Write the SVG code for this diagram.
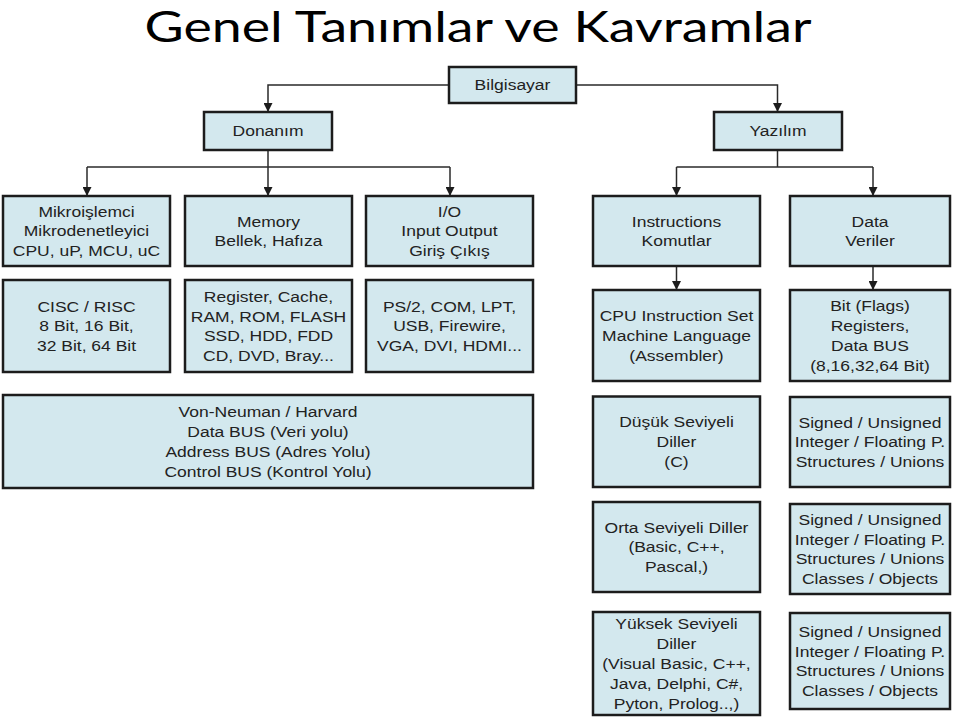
<svg xmlns="http://www.w3.org/2000/svg" width="959" height="719" viewBox="0 0 959 719">
<defs>
<style>
.box{fill:#d3e8ee;stroke:#1c1c1c;stroke-width:2.5}
.lbl{font-family:"Liberation Sans",Arial,sans-serif;font-size:15.5px;fill:#222;text-anchor:middle}
.conn{stroke:#2a2a2a;stroke-width:1.5;fill:none}
.arr{marker-end:url(#ah)}
.title{font-family:Lato,"Open Sans",sans-serif;font-size:42px;fill:#000;text-anchor:middle}
</style>
<marker id="ah" viewBox="0 0 10 10" refX="10" refY="5" markerWidth="9" markerHeight="9" markerUnits="userSpaceOnUse" orient="auto">
<path d="M0,0 L10,5 L0,10 z" fill="#1c1c1c"/>
</marker>
</defs>
<rect width="959" height="719" fill="#fff"/>
<text class="title" x="478" y="42" textLength="667" lengthAdjust="spacingAndGlyphs">Genel Tanımlar ve Kavramlar</text>

<g id="connectors">
<path class="conn arr" d="M449,85 H268 V112"/>
<path class="conn arr" d="M576,85 H777.5 V112"/>
<path class="conn arr" d="M268,150 V196"/>
<path class="conn" d="M87,167 H450"/>
<path class="conn arr" d="M87,167 V196"/>
<path class="conn arr" d="M450,167 V196"/>
<path class="conn" d="M777.5,150 V167"/>
<path class="conn" d="M676.5,167 H873"/>
<path class="conn arr" d="M676.5,167 V196"/>
<path class="conn arr" d="M873,167 V196"/>
<path class="conn arr" d="M676.5,266 V290"/>
<path class="conn arr" d="M873,266 V290"/>
</g>

<g id="bilgisayar"><rect class="box" x="449" y="67" width="127" height="36"/>
<text class="lbl" transform="matrix(1.13 0 0 1 512.5 0)"><tspan x="0" y="90.5">Bilgisayar</tspan></text></g>

<g id="donanim"><rect class="box" x="204" y="112" width="128" height="38"/>
<text class="lbl" transform="matrix(1.13 0 0 1 268 0)"><tspan x="0" y="136.5">Donanım</tspan></text></g>

<g id="yazilim"><rect class="box" x="714" y="112" width="128" height="38"/>
<text class="lbl" transform="matrix(1.13 0 0 1 778 0)"><tspan x="0" y="136.5">Yazılım</tspan></text></g>

<g id="mikro"><rect class="box" x="3" y="196" width="167" height="70"/>
<text class="lbl" transform="matrix(1.13 0 0 1 86.5 0)"><tspan x="0" y="216.7">Mikroişlemci</tspan><tspan x="0" y="236.5">Mikrodenetleyici</tspan><tspan x="0" y="256.3">CPU, uP, MCU, uC</tspan></text></g>

<g id="memory"><rect class="box" x="185" y="196" width="167" height="70"/>
<text class="lbl" transform="matrix(1.13 0 0 1 268.5 0)"><tspan x="0" y="226.6">Memory</tspan><tspan x="0" y="246.4">Bellek, Hafıza</tspan></text></g>

<g id="io"><rect class="box" x="366" y="196" width="167" height="70"/>
<text class="lbl" transform="matrix(1.13 0 0 1 449.5 0)"><tspan x="0" y="216.7">I/O</tspan><tspan x="0" y="236.5">Input Output</tspan><tspan x="0" y="256.3">Giriş Çıkış</tspan></text></g>

<g id="instructions"><rect class="box" x="593" y="196" width="167" height="70"/>
<text class="lbl" transform="matrix(1.13 0 0 1 676.5 0)"><tspan x="0" y="226.6">Instructions</tspan><tspan x="0" y="246.4">Komutlar</tspan></text></g>

<g id="data"><rect class="box" x="790" y="196" width="160" height="70"/>
<text class="lbl" transform="matrix(1.13 0 0 1 870 0)"><tspan x="0" y="226.6">Data</tspan><tspan x="0" y="246.4">Veriler</tspan></text></g>

<g id="cisc"><rect class="box" x="3" y="280" width="167" height="92"/>
<text class="lbl" transform="matrix(1.13 0 0 1 86.5 0)"><tspan x="0" y="311.7">CISC / RISC</tspan><tspan x="0" y="331.5">8 Bit, 16 Bit,</tspan><tspan x="0" y="351.3">32 Bit, 64 Bit</tspan></text></g>

<g id="register"><rect class="box" x="185" y="280" width="167" height="92"/>
<text class="lbl" transform="matrix(1.13 0 0 1 268.5 0)"><tspan x="0" y="301.8">Register, Cache,</tspan><tspan x="0" y="321.6">RAM, ROM, FLASH</tspan><tspan x="0" y="341.4">SSD, HDD, FDD</tspan><tspan x="0" y="361.2">CD, DVD, Bray...</tspan></text></g>

<g id="ports"><rect class="box" x="366" y="280" width="167" height="92"/>
<text class="lbl" transform="matrix(1.13 0 0 1 449.5 0)"><tspan x="0" y="311.7">PS/2, COM, LPT,</tspan><tspan x="0" y="331.5">USB, Firewire,</tspan><tspan x="0" y="351.3">VGA, DVI, HDMI...</tspan></text></g>

<g id="cpuset"><rect class="box" x="593" y="290" width="167" height="91"/>
<text class="lbl" transform="matrix(1.13 0 0 1 676.5 0)"><tspan x="0" y="321.2">CPU Instruction Set</tspan><tspan x="0" y="341">Machine Language</tspan><tspan x="0" y="360.8">(Assembler)</tspan></text></g>

<g id="bits"><rect class="box" x="790" y="290" width="160" height="91"/>
<text class="lbl" transform="matrix(1.13 0 0 1 870 0)"><tspan x="0" y="311.3">Bit (Flags)</tspan><tspan x="0" y="331.1">Registers,</tspan><tspan x="0" y="350.9">Data BUS</tspan><tspan x="0" y="370.7">(8,16,32,64 Bit)</tspan></text></g>

<g id="vonneuman"><rect class="box" x="3" y="395" width="530" height="93"/>
<text class="lbl" transform="matrix(1.13 0 0 1 268 0)"><tspan x="0" y="417.3">Von-Neuman / Harvard</tspan><tspan x="0" y="437.1">Data BUS (Veri yolu)</tspan><tspan x="0" y="456.9">Address BUS (Adres Yolu)</tspan><tspan x="0" y="476.7">Control BUS (Kontrol Yolu)</tspan></text></g>

<g id="dusuk"><rect class="box" x="593" y="396.5" width="167" height="90.5"/>
<text class="lbl" transform="matrix(1.13 0 0 1 676.5 0)"><tspan x="0" y="427.5">Düşük Seviyeli</tspan><tspan x="0" y="447.3">Diller</tspan><tspan x="0" y="467.1">(C)</tspan></text></g>

<g id="signed1"><rect class="box" x="790" y="397" width="160" height="90"/>
<text class="lbl" transform="matrix(1.13 0 0 1 870 0)"><tspan x="0" y="427.7">Signed / Unsigned</tspan><tspan x="0" y="447.5">Integer / Floating P.</tspan><tspan x="0" y="467.3">Structures / Unions</tspan></text></g>

<g id="orta"><rect class="box" x="593" y="502" width="167" height="90"/>
<text class="lbl" transform="matrix(1.13 0 0 1 676.5 0)"><tspan x="0" y="532.7">Orta Seviyeli Diller</tspan><tspan x="0" y="552.5">(Basic, C++,</tspan><tspan x="0" y="572.3">Pascal,)</tspan></text></g>

<g id="signed2"><rect class="box" x="790" y="504" width="160" height="90"/>
<text class="lbl" transform="matrix(1.13 0 0 1 870 0)"><tspan x="0" y="524.8">Signed / Unsigned</tspan><tspan x="0" y="544.6">Integer / Floating P.</tspan><tspan x="0" y="564.4">Structures / Unions</tspan><tspan x="0" y="584.2">Classes / Objects</tspan></text></g>

<g id="yuksek"><rect class="box" x="593" y="612" width="167" height="103"/>
<text class="lbl" transform="matrix(1.13 0 0 1 676.5 0)"><tspan x="0" y="629.4">Yüksek Seviyeli</tspan><tspan x="0" y="649.2">Diller</tspan><tspan x="0" y="669">(Visual Basic, C++,</tspan><tspan x="0" y="688.8">Java, Delphi, C#,</tspan><tspan x="0" y="708.6">Pyton, Prolog..,)</tspan></text></g>

<g id="signed3"><rect class="box" x="790" y="613" width="160" height="96"/>
<text class="lbl" transform="matrix(1.13 0 0 1 870 0)"><tspan x="0" y="636.8">Signed / Unsigned</tspan><tspan x="0" y="656.6">Integer / Floating P.</tspan><tspan x="0" y="676.4">Structures / Unions</tspan><tspan x="0" y="696.2">Classes / Objects</tspan></text></g>
</svg>
